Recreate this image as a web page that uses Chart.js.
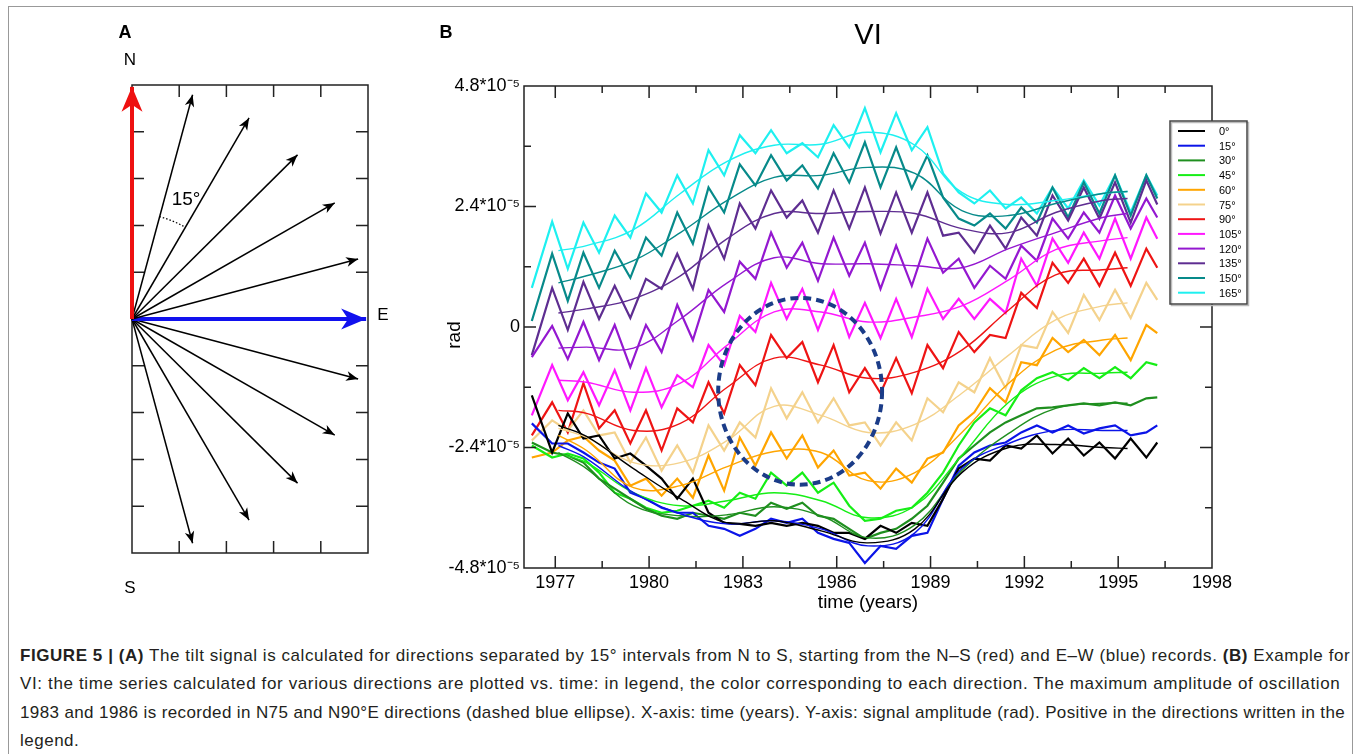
<!DOCTYPE html>
<html>
<head>
<meta charset="utf-8">
<script src="https://cdn.jsdelivr.net/npm/chart.js@4.4.1/dist/chart.umd.min.js"></script>
<style>
  html, body { margin: 0; padding: 0; background: #fff; }
  body { width: 1360px; height: 754px; position: relative; overflow: hidden; font-family: Arial, "Liberation Sans", Helvetica, sans-serif; }
  #frame { position: absolute; left: 8px; top: 6px; width: 1343px; height: 800px; border: 1px solid #999; }
  #wrapA { position: absolute; left: 100px; top: 20px; width: 300px; height: 600px; }
  #wrapB { position: absolute; left: 400px; top: 0; width: 960px; height: 620px; }
  #caption { position: absolute; left: 20px; top: 642px; font-size: 17px; line-height: 28.4px; color: #231f20; white-space: nowrap; }
  #caption .l1 { letter-spacing: 0.56px; }
  #caption .l2 { letter-spacing: 0.63px; }
  #caption .l3 { letter-spacing: 0.38px; }
  #caption .l4 { letter-spacing: 0.5px; }
</style>
</head>
<body>
<div id="frame"></div>
<div id="wrapA"><canvas id="chartA" width="300" height="600"></canvas></div>
<div id="wrapB"><canvas id="chartB" width="960" height="620"></canvas></div>
<div id="caption">
<div class="l1"><b>FIGURE 5 | (A)</b> The tilt signal is calculated for directions separated by 15° intervals from N to S, starting from the N–S (red) and E–W (blue) records. <b>(B)</b> Example for</div>
<div class="l2">VI: the time series calculated for various directions are plotted vs. time: in legend, the color corresponding to each direction. The maximum amplitude of oscillation</div>
<div class="l3">1983 and 1986 is recorded in N75 and N90°E directions (dashed blue ellipse). X-axis: time (years). Y-axis: signal amplitude (rad). Positive in the directions written in the</div>
<div class="l4">legend.</div>
</div>
<script>
// Panel B: tilt series (units of 1e-5 rad) at troughs / peaks
const years = [1976.25, 1976.9, 1977.4, 1977.9, 1978.4, 1978.9, 1979.4, 1979.9, 1980.4, 1980.9,
  1981.4, 1981.9, 1982.4, 1982.9, 1983.4, 1983.9, 1984.4, 1984.9, 1985.4, 1985.9,
  1986.4, 1986.9, 1987.4, 1987.9, 1988.4, 1988.9, 1989.4, 1989.9, 1990.4, 1990.9,
  1991.4, 1991.9, 1992.4, 1992.9, 1993.4, 1993.9, 1994.4, 1994.9, 1995.4, 1995.9, 1996.25];

const tilt0 = [-1.36, -2.50, -1.72, -2.22, -2.16, -2.62, -2.52, -2.76, -3.02, -3.42, -3.02, -3.70, -3.90, -3.92, -3.96, -3.90, -3.96, -3.90, -3.96, -4.10, -4.10, -4.22, -3.96, -4.10, -3.90, -3.96, -3.42, -2.82, -2.62, -2.66, -2.36, -2.42, -2.16, -2.52, -2.22, -2.56, -2.30, -2.62, -2.22, -2.60, -2.30];
const tilt15 = [-1.92, -2.32, -2.32, -2.50, -2.70, -2.82, -3.30, -3.42, -3.60, -3.70, -3.70, -3.96, -4.02, -4.16, -4.02, -3.82, -3.90, -3.82, -4.10, -4.22, -4.30, -4.70, -4.36, -4.42, -4.16, -4.10, -3.42, -2.76, -2.50, -2.36, -2.30, -2.10, -1.96, -2.10, -1.96, -2.12, -2.02, -1.96, -2.16, -2.10, -1.96];
const tilt30 = [-2.30, -2.50, -2.56, -2.70, -3.02, -3.22, -3.42, -3.62, -3.76, -3.82, -3.70, -3.76, -3.82, -3.70, -3.76, -3.50, -3.62, -3.50, -3.76, -3.82, -4.02, -4.22, -4.10, -4.02, -3.82, -3.56, -3.10, -2.62, -2.36, -2.10, -1.90, -1.76, -1.62, -1.60, -1.56, -1.52, -1.56, -1.50, -1.56, -1.42, -1.40];
const tilt45 = [-2.36, -2.60, -2.52, -2.62, -2.90, -3.30, -3.42, -3.60, -3.70, -3.66, -3.56, -3.46, -3.60, -3.30, -3.42, -2.90, -3.16, -2.90, -3.30, -3.10, -3.56, -3.86, -3.82, -3.66, -3.60, -3.30, -2.90, -2.36, -1.90, -1.62, -1.76, -1.26, -1.02, -0.90, -1.06, -0.82, -1.02, -0.80, -1.02, -0.70, -0.76];
const tilt60 = [-2.60, -2.50, -2.26, -2.18, -2.46, -2.66, -3.16, -3.02, -3.36, -3.02, -3.40, -2.56, -3.26, -2.20, -2.76, -2.10, -2.62, -2.16, -2.80, -2.46, -2.96, -2.90, -3.22, -2.82, -3.10, -2.62, -2.50, -1.96, -1.70, -1.22, -1.50, -0.70, -0.76, -0.22, -0.50, -0.26, -0.56, -0.16, -0.66, 0.04, -0.12];
const tilt75 = [-2.26, -1.86, -2.06, -1.66, -2.16, -2.10, -2.70, -2.20, -2.86, -2.36, -2.90, -1.96, -2.46, -1.90, -2.20, -1.22, -1.82, -1.30, -1.90, -1.42, -1.96, -1.90, -2.36, -1.90, -2.26, -1.42, -1.70, -1.10, -1.30, -0.62, -1.22, -0.36, -0.42, 0.30, -0.12, 0.64, 0.14, 0.74, 0.18, 0.88, 0.54];
const tilt90 = [-2.16, -1.50, -2.10, -1.12, -2.02, -1.66, -2.32, -1.66, -2.46, -1.62, -1.90, -1.10, -1.72, -0.76, -1.16, -0.16, -0.62, -0.30, -1.10, -0.36, -1.30, -0.82, -1.32, -0.62, -1.32, -0.36, -0.82, -0.10, -0.50, -0.16, -0.22, 0.68, 0.38, 1.28, 0.88, 1.36, 0.82, 1.48, 0.82, 1.56, 1.18];
const tilt105 = [-1.76, -0.76, -1.46, -0.90, -1.56, -0.86, -1.66, -0.82, -1.60, -0.96, -1.20, -0.36, -0.76, 0.22, -0.10, 0.88, 0.16, 0.76, -0.06, 0.72, -0.20, 0.48, -0.22, 0.56, -0.20, 0.76, 0.16, 0.56, 0.16, 0.56, 0.28, 1.36, 0.82, 1.76, 1.28, 1.88, 1.36, 2.16, 1.36, 2.18, 1.76];
const tilt120 = [-0.60, 0.02, -0.64, 0.10, -0.66, 0.04, -0.80, 0.04, -0.50, 0.44, -0.26, 0.74, 0.30, 1.30, 0.96, 1.88, 1.18, 1.68, 0.92, 1.78, 1.02, 1.68, 0.76, 1.62, 0.82, 1.76, 1.08, 1.36, 0.78, 1.22, 0.96, 1.62, 1.32, 2.16, 1.76, 2.28, 1.88, 2.62, 1.96, 2.56, 2.18];
const tilt135 = [-0.56, 0.78, -0.06, 0.90, 0.16, 0.82, 0.18, 0.96, 0.76, 1.46, 0.76, 2.02, 1.36, 2.46, 1.96, 2.72, 2.18, 2.52, 1.88, 2.72, 1.96, 2.78, 1.86, 2.68, 1.88, 2.68, 1.82, 1.88, 1.48, 2.02, 1.56, 2.18, 1.82, 2.62, 2.12, 2.78, 2.16, 2.88, 2.08, 2.92, 2.44];
const tilt150 = [0.12, 1.46, 0.52, 1.48, 0.78, 1.52, 0.98, 1.78, 1.42, 2.28, 1.66, 2.78, 2.28, 3.24, 2.82, 3.42, 2.92, 3.22, 2.76, 3.46, 2.88, 3.68, 2.78, 3.58, 2.76, 3.42, 2.58, 2.16, 2.02, 2.26, 1.96, 2.38, 2.08, 2.78, 2.18, 2.88, 2.26, 3.02, 2.22, 3.02, 2.56];
const tilt165 = [0.78, 2.10, 1.16, 2.08, 1.48, 2.22, 1.78, 2.66, 2.28, 3.02, 2.46, 3.52, 3.02, 3.82, 3.46, 3.92, 3.46, 3.66, 3.38, 4.02, 3.58, 4.36, 3.48, 4.26, 3.52, 3.98, 3.06, 2.68, 2.46, 2.72, 2.36, 2.58, 2.26, 2.78, 2.36, 2.92, 2.42, 3.02, 2.28, 3.02, 2.62];

// smooth trend curves drawn over each series
const trendYears = [1977.1, 1978, 1979.5, 1981, 1982.5, 1984, 1985.5, 1987, 1988.5, 1990, 1991.5, 1993, 1994.5, 1995.3];
const trend0 = [-1.96, -2.18, -2.82, -3.42, -3.90, -3.86, -4.06, -4.30, -4.02, -2.90, -2.40, -2.34, -2.40, -2.42];
const trend15 = [-2.36, -2.62, -3.30, -3.72, -3.92, -3.86, -4.02, -4.36, -4.10, -2.82, -2.32, -2.06, -2.06, -2.06];
const trend30 = [-2.50, -2.82, -3.56, -3.76, -3.74, -3.58, -3.76, -4.20, -3.94, -2.86, -2.12, -1.62, -1.52, -1.52];
const trend45 = [-2.52, -2.70, -3.30, -3.56, -3.46, -3.30, -3.46, -3.80, -3.56, -2.56, -1.50, -0.98, -0.92, -0.90];
const trend60 = [-2.16, -2.46, -3.20, -3.16, -2.78, -2.48, -2.50, -3.06, -2.90, -2.10, -1.12, -0.46, -0.26, -0.22];
const trend75 = [-2.02, -2.20, -2.70, -2.70, -2.26, -1.58, -1.76, -2.10, -1.94, -1.32, -0.56, 0.14, 0.42, 0.48];
const trend90 = [-1.66, -1.72, -2.06, -1.92, -1.20, -0.62, -0.76, -1.02, -0.90, -0.46, 0.34, 1.04, 1.14, 1.18];
const trend105 = [-1.06, -1.10, -1.30, -1.12, -0.36, 0.30, 0.30, 0.10, 0.20, 0.42, 0.94, 1.54, 1.72, 1.78];
const trend120 = [-0.42, -0.40, -0.42, 0.16, 0.88, 1.38, 1.26, 1.26, 1.22, 1.18, 1.56, 1.88, 2.18, 2.26];
const trend135 = [0.28, 0.36, 0.56, 1.02, 1.76, 2.26, 2.26, 2.30, 2.26, 1.96, 1.88, 2.28, 2.52, 2.56];
const trend150 = [0.88, 1.02, 1.32, 1.88, 2.52, 2.98, 3.02, 3.18, 3.06, 2.32, 2.22, 2.46, 2.66, 2.70];
const trend165 = [1.52, 1.62, 1.94, 2.66, 3.30, 3.62, 3.64, 3.88, 3.62, 2.68, 2.44, 2.52, 2.66, 2.70];

const directions = [0, 15, 30, 45, 60, 75, 90, 105, 120, 135, 150, 165];
const colors = ["#000000", "#0b14e8", "#1f8f1f", "#16ee16", "#ffa500", "#f4d28c", "#ee1414", "#ff18ff", "#9418d0", "#5e2d91", "#078a8a", "#1ef0f0"];

const xTickLabels = [1977, 1980, 1983, 1986, 1989, 1992, 1995, 1998];
const xMinor = [1978.5, 1981.5, 1984.5, 1987.5, 1990.5, 1993.5, 1996.5];
const yTickLabels = [-4.8, -2.4, 0, 2.4, 4.8];
const yMajor = [-2.4, 0, 2.4];
const yMinor = [-3.6, -1.2, 1.2, 3.6];

// dashed ellipse (centre year, centre value, half width in years, half height)
const ellipse = { x: 1984.83, y: -1.28, rx: 2.62, ry: 1.86 };

// Panel A: directions of the arrows (degrees from N, clockwise)
const compassAngles = [0, 15, 30, 45, 60, 75, 90, 105, 120, 135, 150, 165];

Chart.defaults.font.family = 'Arial, "Liberation Sans", Helvetica, sans-serif';
Chart.defaults.color = "#000";

const tiltSeries = [tilt0, tilt15, tilt30, tilt45, tilt60, tilt75, tilt90, tilt105, tilt120, tilt135, tilt150, tilt165];
const trendSeries = [trend0, trend15, trend30, trend45, trend60, trend75, trend90, trend105, trend120, trend135, trend150, trend165];

const datasetsB = [];
directions.forEach((d, i) => {
  datasetsB.push({
    label: d + "°",
    data: years.map((yr, k) => ({ x: yr, y: tiltSeries[i][k] })),
    borderColor: colors[i],
    borderWidth: 2.2,
    tension: 0,
    order: 1
  });
});
directions.forEach((d, i) => {
  datasetsB.push({
    label: "trend " + d,
    data: trendYears.map((yr, k) => ({ x: yr, y: trendSeries[i][k] })),
    borderColor: colors[i],
    borderWidth: 1.4,
    tension: 0.4,
    order: 0
  });
});

const decorB = {
  id: "decorB",
  afterDraw(chart) {
    const { ctx, chartArea: a, scales: { x, y } } = chart;
    ctx.save();
    ctx.strokeStyle = "#222";
    ctx.lineWidth = 1.5;
    ctx.strokeRect(a.left, a.top, a.right - a.left, a.bottom - a.top);

    // inward tick marks on all four sides
    ctx.beginPath();
    const xt = (v, len) => {
      const px = x.getPixelForValue(v);
      ctx.moveTo(px, a.top); ctx.lineTo(px, a.top + len);
      ctx.moveTo(px, a.bottom); ctx.lineTo(px, a.bottom - len);
    };
    const yt = (v, len) => {
      const py = y.getPixelForValue(v);
      ctx.moveTo(a.left, py); ctx.lineTo(a.left + len, py);
      ctx.moveTo(a.right, py); ctx.lineTo(a.right - len, py);
    };
    xTickLabels.slice(0, -1).forEach(v => xt(v, 12));
    xMinor.forEach(v => xt(v, 7));
    yMajor.forEach(v => yt(v, 12));
    yMinor.forEach(v => yt(v, 7));
    ctx.stroke();

    // dashed ellipse
    const cx = x.getPixelForValue(ellipse.x), cy = y.getPixelForValue(ellipse.y);
    const rx = x.getPixelForValue(ellipse.x + ellipse.rx) - cx;
    const ry = cy - y.getPixelForValue(ellipse.y + ellipse.ry);
    ctx.beginPath();
    ctx.setLineDash([8, 5]);
    ctx.strokeStyle = "#1b3c88";
    ctx.lineWidth = 4;
    ctx.ellipse(cx, cy, rx, ry, 0, 0, Math.PI * 2);
    ctx.stroke();
    ctx.setLineDash([]);

    // titles
    ctx.fillStyle = "#000";
    ctx.textAlign = "center";
    ctx.textBaseline = "middle";
    ctx.font = '29px Arial, "Liberation Sans", sans-serif';
    ctx.fillText("VI", (a.left + a.right) / 2, 36);
    ctx.font = '19px Arial, "Liberation Sans", sans-serif';
    ctx.fillText("time (years)", (a.left + a.right) / 2, 603);
    ctx.save();
    ctx.translate(55, 335);
    ctx.rotate(-Math.PI / 2);
    ctx.fillText("rad", 0, 0);
    ctx.restore();
    ctx.font = 'bold 18px Arial, "Liberation Sans", sans-serif';
    ctx.fillText("B", 46, 33);

    // legend box
    const lx = 770, ly = 121, lw = 77, lh = 183;
    ctx.fillStyle = "#fff";
    ctx.fillRect(lx, ly, lw, lh);
    ctx.strokeStyle = "#bbb";
    ctx.lineWidth = 1.5;
    ctx.strokeRect(lx + 1.5, ly + 1.5, lw, lh);
    ctx.strokeStyle = "#444";
    ctx.strokeRect(lx, ly, lw, lh);
    ctx.font = '11px Arial, "Liberation Sans", sans-serif';
    ctx.textAlign = "left";
    directions.forEach((d, i) => {
      const ry2 = 131 + i * 14.7;
      ctx.strokeStyle = colors[i];
      ctx.lineWidth = 2;
      ctx.beginPath();
      ctx.moveTo(778, ry2); ctx.lineTo(805, ry2);
      ctx.stroke();
      ctx.fillStyle = "#000";
      ctx.fillText(d + "°", 819, ry2 + 1);
    });
    ctx.restore();
  }
};

new Chart(document.getElementById("chartB"), {
  type: "line",
  data: { datasets: datasetsB },
  options: {
    responsive: false,
    animation: false,
    layout: { padding: { left: 0, top: 86, right: 148, bottom: 0 } },
    elements: { point: { radius: 0 } },
    plugins: { legend: { display: false }, tooltip: { enabled: false } },
    scales: {
      x: {
        type: "linear", min: 1976, max: 1998,
        afterBuildTicks: s => { s.ticks = xTickLabels.map(v => ({ value: v })); },
        afterFit: s => { s.height = 52; },
        grid: { display: false, drawTicks: false },
        border: { display: false },
        ticks: { padding: 4, maxRotation: 0, autoSkip: false, font: { size: 18 }, color: "#000", callback: v => String(v) }
      },
      y: {
        type: "linear", min: -4.8, max: 4.8,
        afterBuildTicks: s => { s.ticks = yTickLabels.map(v => ({ value: v })); },
        afterFit: s => { s.width = 124; },
        grid: { display: false, drawTicks: false },
        border: { display: false },
        ticks: { padding: 4, font: { size: 18 }, color: "#000", callback: v => v === 0 ? "0" : v.toFixed(1) + "*10⁻⁵" }
      }
    }
  },
  plugins: [decorB]
});

// Panel A: compass diagram
const arrowLen = 4.96;
const redArrow = "#ee1111", blueArrow = "#1111ee";
const datasetsA = compassAngles.map(ang => {
  const r = ang * Math.PI / 180;
  const c = ang === 0 ? redArrow : ang === 90 ? blueArrow : "#000";
  return {
    data: [{ x: 0, y: 0 }, { x: arrowLen * Math.sin(r), y: arrowLen * Math.cos(r) }],
    showLine: true,
    borderColor: c,
    borderWidth: (ang === 0 || ang === 90) ? 4 : 1.5,
    pointRadius: 0,
    clip: false
  };
});

function arrowHead(ctx, x0, y0, x1, y1, len, half, color) {
  const ang = Math.atan2(y1 - y0, x1 - x0);
  ctx.save();
  ctx.translate(x1, y1);
  ctx.rotate(ang);
  ctx.beginPath();
  ctx.moveTo(0, 0);
  ctx.lineTo(-len, -half);
  ctx.lineTo(-len * 0.72, 0);
  ctx.lineTo(-len, half);
  ctx.closePath();
  ctx.fillStyle = color;
  ctx.fill();
  ctx.restore();
}

const decorA = {
  id: "decorA",
  beforeDatasetsDraw(chart) {
    const { ctx, chartArea: a, scales: { x, y } } = chart;
    ctx.save();
    ctx.strokeStyle = "#222";
    ctx.lineWidth = 1.5;
    ctx.strokeRect(a.left, a.top, a.right - a.left, a.bottom - a.top);
    ctx.beginPath();
    [1, 2, 3, 4].forEach(v => {
      const px = x.getPixelForValue(v);
      ctx.moveTo(px, a.top); ctx.lineTo(px, a.top + 12);
      ctx.moveTo(px, a.bottom); ctx.lineTo(px, a.bottom - 12);
    });
    [-4, -3, -2, -1, 1, 2, 3, 4].forEach(v => {
      const py = y.getPixelForValue(v);
      ctx.moveTo(a.left, py); ctx.lineTo(a.left + 12, py);
      ctx.moveTo(a.right, py); ctx.lineTo(a.right - 12, py);
    });
    ctx.stroke();
    ctx.restore();
  },
  afterDraw(chart) {
    const { ctx, scales: { x, y } } = chart;
    ctx.save();
    chart.data.datasets.forEach((ds, i) => {
      const pts = chart.getDatasetMeta(i).data;
      const ang = compassAngles[i];
      const big = ang === 0 || ang === 90;
      arrowHead(ctx, pts[0].x, pts[0].y, pts[1].x, pts[1].y, big ? 25 : 12, big ? 10.5 : 4.8, ds.borderColor);
    });
    // dotted 15 degree arc
    const ox = x.getPixelForValue(0), oy = y.getPixelForValue(0);
    ctx.beginPath();
    ctx.setLineDash([1.5, 2]);
    ctx.strokeStyle = "#000";
    ctx.lineWidth = 1.2;
    ctx.arc(ox, oy, 106, (15 - 90) * Math.PI / 180, (30 - 90) * Math.PI / 180);
    ctx.stroke();
    ctx.setLineDash([]);
    ctx.fillStyle = "#000";
    ctx.textAlign = "center";
    ctx.textBaseline = "middle";
    ctx.font = '19px Arial, "Liberation Sans", sans-serif';
    ctx.fillText("15°", 86, 180);
    ctx.font = '17px Arial, "Liberation Sans", sans-serif';
    ctx.fillText("N", 30, 40);
    ctx.fillText("E", 283, 295);
    ctx.fillText("S", 30, 568);
    ctx.font = 'bold 18px Arial, "Liberation Sans", sans-serif';
    ctx.fillText("A", 25, 13);
    ctx.restore();
  }
};

new Chart(document.getElementById("chartA"), {
  type: "scatter",
  data: { datasets: datasetsA },
  options: {
    responsive: false,
    animation: false,
    layout: { padding: { left: 32, top: 65, right: 32, bottom: 67 } },
    plugins: { legend: { display: false }, tooltip: { enabled: false } },
    scales: {
      x: { display: false, min: 0, max: 5 },
      y: { display: false, min: -5, max: 5 }
    }
  },
  plugins: [decorA]
});
</script>
</body>
</html>
